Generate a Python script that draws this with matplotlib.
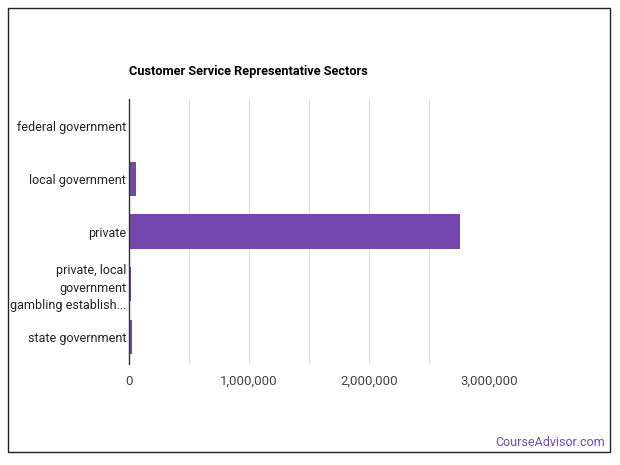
import matplotlib

matplotlib.use("Agg")
import matplotlib.pyplot as plt
from matplotlib.patches import Rectangle
from matplotlib.ticker import FuncFormatter, MultipleLocator

plt.rcParams["font.family"] = ["Roboto", "DejaVu Sans"]

# data
sectors = [
    "federal government",
    "local government",
    "private",
    "private, local\ngovernment\ngambling establish...",
    "state government",
]
employees = [12000, 58000, 2758000, 15000, 25000]
x_ticks = [0, 1000000, 2000000, 3000000]

fig = plt.figure(figsize=(6.2, 4.65), dpi=100)
ax = fig.add_axes([129 / 620, 1 - 363.5 / 465, 360 / 620, 264 / 465])

# outer frame around the whole card
fig.patches.append(Rectangle((8 / 620, 1 - 452 / 465), 602 / 620, 444 / 465,
                             transform=fig.transFigure, fill=False,
                             edgecolor="#222222", linewidth=1.0))

ax.barh(range(len(sectors)), employees, height=0.65, color="#7347AD", zorder=3)
ax.set_yticks(range(len(sectors)))
ax.set_yticklabels(sectors, fontsize=9, color="#222222", linespacing=1.45)
ax.set_ylim(len(sectors) - 0.5, -0.5)

ax.set_xlim(0, 3000000)
ax.set_xticks(x_ticks)
ax.xaxis.set_minor_locator(MultipleLocator(500000))
ax.xaxis.set_major_formatter(FuncFormatter(lambda v, _: f"{int(v):,}"))
ax.tick_params(axis="x", labelsize=9.5, labelcolor="#444444", length=0, pad=8)
ax.tick_params(axis="x", which="minor", length=0)
ax.tick_params(axis="y", length=0, pad=2)
ax.grid(axis="x", which="both", color="#dddddd", linewidth=0.8, zorder=0)
ax.set_axisbelow(True)

for side in ["top", "right", "bottom"]:
    ax.spines[side].set_visible(False)
ax.spines["left"].set_color("#333333")
ax.spines["left"].set_linewidth(1.0)
ax.spines["left"].set_zorder(4)

fig.text(129 / 620, 1 - 71 / 465, "Customer Service Representative Sectors",
         fontsize=9.2, fontweight="bold", color="#000000", va="center", ha="left")
fig.text(605 / 620, 1 - 442 / 465, "CourseAdvisor.com", fontsize=9,
         color="#7347AD", ha="right", va="center")

fig.savefig("out.png", dpi=100)
